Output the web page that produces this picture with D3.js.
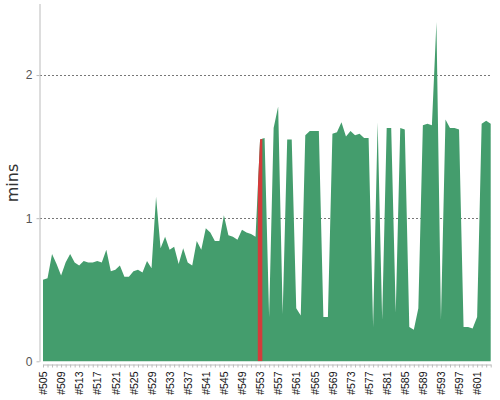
<!DOCTYPE html>
<html>
<head>
<meta charset="utf-8">
<script src="https://cdn.jsdelivr.net/npm/d3@7"></script>
<style>
  html, body { margin: 0; padding: 0; background: #fff; }
  svg { display: block; font-family: "DejaVu Sans", Verdana, sans-serif; }
</style>
</head>
<body>
<svg id="chart" width="500" height="400"></svg>
<script>
const builds = [505,506,507,508,509,510,511,512,513,514,515,516,517,518,519,520,521,522,523,524,
  525,526,527,528,529,530,531,532,533,534,535,536,537,538,539,540,541,542,543,544,
  545,546,547,548,549,550,551,552,553,554,555,556,557,558,559,560,561,562,563,564,
  565,566,567,568,569,570,571,572,573,574,575,576,577,578,579,580,581,582,583,584,
  585,586,587,588,589,590,591,592,593,594,595,596,597,598,599,600,601,602,603,604];
const durations = [0.57,0.58,0.75,0.68,0.60,0.69,0.75,0.69,0.67,0.70,0.69,0.69,0.70,0.69,0.78,0.63,0.64,0.67,0.59,0.59,
  0.63,0.64,0.62,0.70,0.65,1.15,0.79,0.87,0.78,0.80,0.68,0.79,0.69,0.67,0.84,0.78,0.93,0.90,0.84,0.84,
  1.02,0.88,0.87,0.85,0.92,0.90,0.89,0.87,1.55,1.56,0.31,1.63,1.78,0.33,1.55,1.55,0.37,0.32,1.58,1.61,
  1.61,1.61,0.31,0.31,1.59,1.60,1.67,1.57,1.61,1.58,1.59,1.56,1.56,0.24,1.67,0.29,1.63,1.63,0.34,1.63,
  1.62,0.24,0.22,0.37,1.65,1.66,1.65,2.37,0.29,1.69,1.63,1.63,1.62,0.24,0.24,0.23,0.31,1.66,1.68,1.66];
const failedBuilds = [553];
const yTicks = [0, 1, 2];
const yLabel = "mins";

const data = builds.map((b, i) => ({ build: b, mins: durations[i] }));

const svg = d3.select("#chart");
const x = d3.scaleLinear().domain([builds[0], builds[builds.length - 1]]).range([43, 490.7]);
const y = d3.scaleLinear().domain([0, 2.5]).range([361.3, 3.5]);
const step = x(builds[1]) - x(builds[0]);

// grid
svg.append("g").selectAll("line").data(yTicks.filter(t => t > 0)).join("line")
  .attr("x1", 40).attr("x2", 490)
  .attr("y1", d => Math.round(y(d)) + 0.5).attr("y2", d => Math.round(y(d)) + 0.5)
  .attr("stroke", "#777").attr("stroke-width", 1).attr("stroke-dasharray", "2,2");

// area
const area = d3.area().x(d => x(d.build)).y0(y(0)).y1(d => y(d.mins));
const defs = svg.append("defs");
defs.append("clipPath").attr("id", "areaClip").append("path").attr("d", area(data));
svg.append("path").attr("d", area(data)).attr("fill", "#449d6d");

// failed builds highlighted in red within the area
svg.append("g").attr("clip-path", "url(#areaClip)")
  .selectAll("rect").data(failedBuilds).join("rect")
  .attr("x", d => x(d) - step / 2).attr("width", step)
  .attr("y", y.range()[1]).attr("height", y(0) - y.range()[1])
  .attr("fill", "#d43b3b");

// y axis
const yAxis = svg.append("g").attr("transform", "translate(39.5,0)")
  .call(d3.axisLeft(y).tickValues(yTicks).tickFormat(d3.format("d")).tickSize(3).tickSizeOuter(0));
yAxis.select(".domain").attr("stroke", "#bbb");
yAxis.selectAll(".tick line").attr("stroke", "#bbb");
yAxis.selectAll(".tick text").attr("fill", "#555").style("font-size", "12px").attr("x", -7);

// x axis
const xAxis = svg.append("g").attr("transform", "translate(0,364.5)")
  .call(d3.axisBottom(x).tickValues(builds)
    .tickFormat(d => ((d - builds[0]) % 4 === 0 ? "#" + d : ""))
    .tickSize(3).tickSizeOuter(0));
xAxis.select(".domain").attr("stroke", "#bbb");
xAxis.selectAll(".tick line").attr("stroke", "#bbb");
xAxis.selectAll(".tick text")
  .attr("transform", "rotate(-90)")
  .attr("x", -7).attr("y", 0).attr("dy", "0.35em")
  .style("text-anchor", "end").style("font-size", "10.5px").attr("fill", "#111");

// y label
svg.append("text")
  .attr("transform", "translate(18,183) rotate(-90)")
  .attr("text-anchor", "middle")
  .style("font-size", "16px").attr("fill", "#333")
  .text(yLabel);
</script>
</body>
</html>
